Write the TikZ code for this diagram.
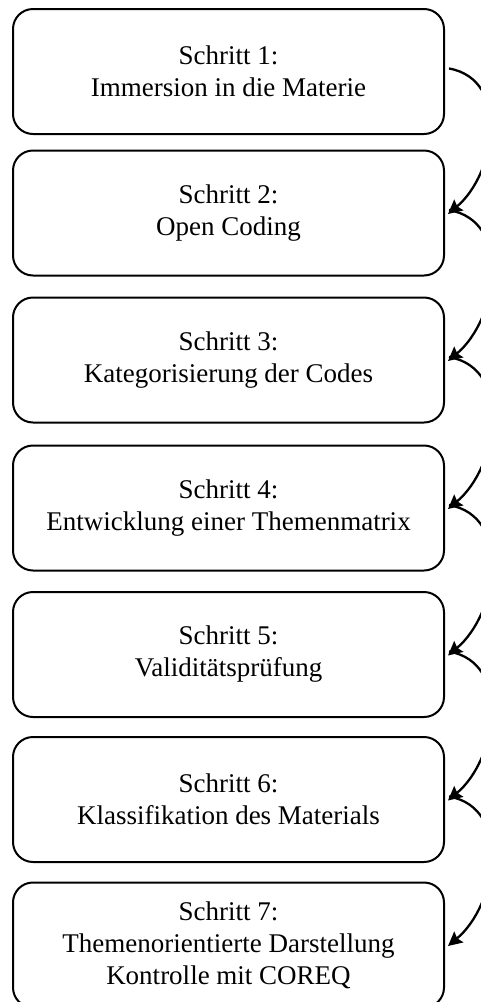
\documentclass[tikz,border=0pt]{standalone}
\usepackage{fontspec}
\setmainfont{Liberation Serif}
\usetikzlibrary{arrows.meta}
\tikzset{
  stepbox/.style={draw=black, line width=2pt, rounded corners=20pt,
    minimum width=431pt, minimum height=125pt, inner sep=0pt,
    align=center, font=\fontsize{27}{32}\selectfont},
  flowarrow/.style={line width=2.3pt, -{Stealth[length=14pt,width=14pt,inset=2pt]}, out=-10, in=40, looseness=1.1}
}
\begin{document}
\begin{tikzpicture}[x=1pt,y=-1pt]
\useasboundingbox (0,0) rectangle (480,1002);
\node[stepbox] (b1) at (228.5,71.5) {Schritt 1:\\Immersion in die Materie};
\node[stepbox] (b2) at (228.5,213) {Schritt 2:\\Open Coding};
\node[stepbox] (b3) at (228.5,360) {Schritt 3:\\Kategorisierung der Codes};
\node[stepbox] (b4) at (228.5,508) {Schritt 4:\\Entwicklung einer Themenmatrix};
\node[stepbox] (b5) at (228.5,654.5) {Schritt 5:\\Validitätsprüfung};
\node[stepbox] (b6) at (228.5,799.5) {Schritt 6:\\Klassifikation des Materials};
\node[stepbox] (b7) at (228.5,945) {Schritt 7:\\Themenorientierte Darstellung\\Kontrolle mit COREQ};
\foreach \a/\b in {b1/b2,b2/b3,b3/b4,b4/b5,b5/b6,b6/b7}{
  \draw[flowarrow] ([xshift=4pt,yshift=3pt]\a.east) to ([xshift=3pt,yshift=-1pt]\b.east);
}
\end{tikzpicture}
\end{document}
